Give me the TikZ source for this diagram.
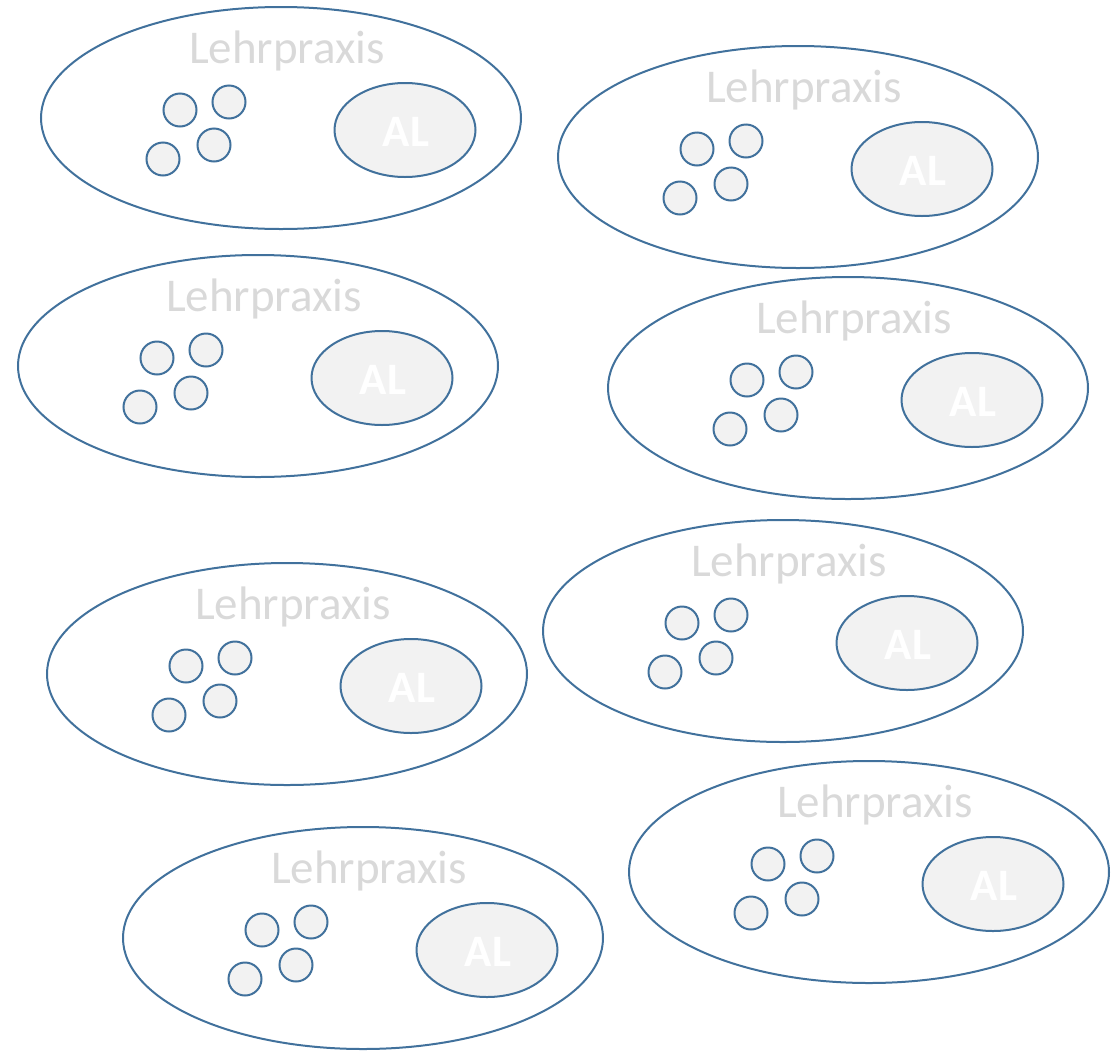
\documentclass[tikz,border=0pt]{standalone}
\usepackage{fontspec}
\setmainfont{Carlito}
\usepackage{xcolor}
\usepackage{tikz}
\usetikzlibrary{shapes.geometric}
\definecolor{rand}{HTML}{41719C}
\definecolor{fuell}{HTML}{F2F2F2}
\definecolor{schrift}{HTML}{D9D9D9}

\begin{document}
\begin{tikzpicture}[x=1pt,y=-1pt,
    praxis/.style={ellipse,draw=rand,line width=2pt,minimum width=480pt,minimum height=222pt,inner sep=0pt},
    al/.style={ellipse,draw=rand,fill=fuell,line width=2pt,minimum width=141pt,minimum height=94pt,inner sep=0pt},
    person/.style={circle,draw=rand,fill=fuell,line width=2pt,minimum size=33pt,inner sep=0pt},
    titel/.style={text=schrift,font=\fontsize{47}{56}\selectfont,anchor=base,inner sep=0pt},
    kuerzel/.style={text=white,font=\bfseries\fontsize{45}{54}\selectfont,anchor=base,inner sep=0pt}]
    \useasboundingbox (0,0) rectangle (1114,1050);
    % eight practice groups, each with its AL
    \foreach \x/\y [count=\i] in {281/118, 798/157, 258/366, 848/388,
                                  287/674, 783/631, 363/938, 869/872} {
        \node[praxis] (lp\i) at (\x,\y) {};
        \node[titel] (t\i) at (\x+6,\y-55) {Lehrpraxis};
        \node[al] (al\i) at (\x+124,\y+12) {};
        \node[kuerzel] (k\i) at (\x+125,\y+28) {AL};
        \node[person] (p\i a) at (\x-101,\y-8) {};
        \node[person] (p\i b) at (\x-52,\y-16) {};
        \node[person] (p\i c) at (\x-67,\y+27) {};
        \node[person] (p\i d) at (\x-118,\y+41) {};
    }
\end{tikzpicture}
\end{document}
